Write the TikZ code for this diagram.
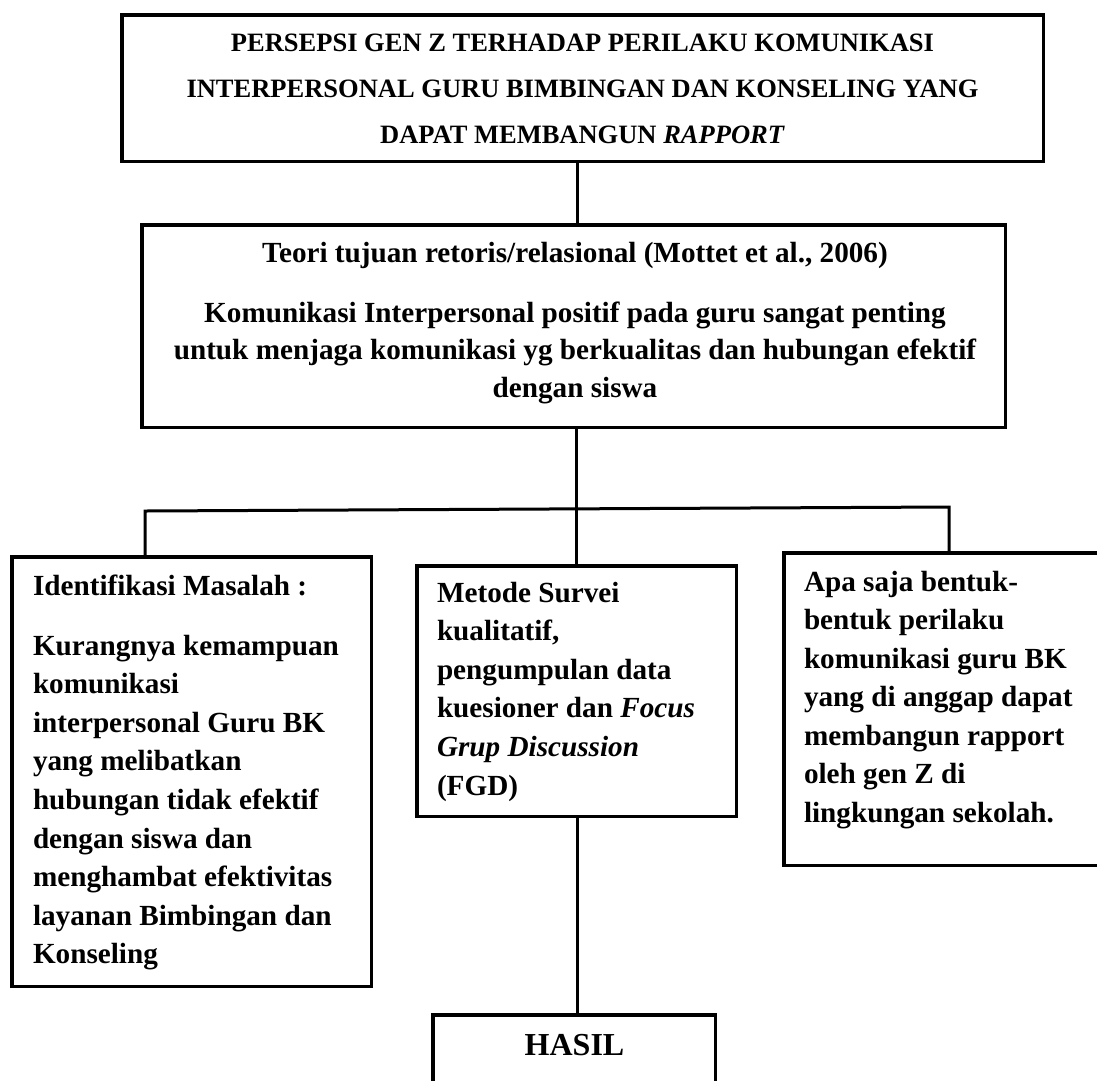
\documentclass[tikz,border=0pt]{standalone}
\usepackage{fontspec}
\setmainfont{Liberation Serif}
\tikzset{
  box/.style={draw, line width=3.5pt, inner sep=0pt, outer sep=0pt},
  conn/.style={line width=3pt},
  ltxt/.style={inner sep=0pt, outer sep=0pt, anchor=base west},
  ctxt/.style={inner sep=0pt, outer sep=0pt, anchor=base},
}
\newcommand{\bodyfnt}[1]{\fontsize{29.2}{#1}\selectfont\bfseries}
\begin{document}
\begin{tikzpicture}[x=1pt,y=-1pt]
\useasboundingbox (0,0) rectangle (1097,1080);
% boxes
\node[box, minimum width=921.5pt, minimum height=146.5pt] (judul) at (582.5,88) {};
\node[box, minimum width=863.5pt, minimum height=202.5pt] (teori) at (573.5,326) {};
\node[box, minimum width=359.5pt, minimum height=429.5pt] (masalah) at (191.5,771.5) {};
\node[box, minimum width=319.5pt, minimum height=250.5pt] (metode) at (576.5,691) {};
\node[box, minimum width=326.25pt, minimum height=312.5pt] (rumusan) at (946.9,709) {};
\node[box, minimum width=282.5pt, minimum height=85.25pt] (hasil) at (574,1057.4) {};
% texts
\node[ctxt] (tjudul) at (582.5,51) {\parbox[t]{1000pt}{\centering\fontsize{26.5}{46}\selectfont\bfseries
PERSEPSI GEN Z TERHADAP PERILAKU KOMUNIKASI\\
INTERPERSONAL GURU BIMBINGAN DAN KONSELING YANG\\
DAPAT MEMBANGUN \textit{RAPPORT}}};
\node[ctxt] (tteori) at (575,262) {\parbox[t]{900pt}{\centering\bodyfnt{34}
Teori tujuan retoris/relasional (Mottet et al., 2006)}};
\node[ctxt] (tkom) at (575,322) {\parbox[t]{900pt}{\centering\bodyfnt{37.5}
Komunikasi Interpersonal positif pada guru sangat penting\\
untuk menjaga komunikasi yg berkualitas dan hubungan efektif\\
dengan siswa}};
\node[ltxt] (tident) at (33,595) {\parbox[t]{340pt}{\raggedright\bodyfnt{38.6}
Identifikasi Masalah :}};
\node[ltxt] (tkurang) at (33,655) {\parbox[t]{340pt}{\raggedright\bodyfnt{38.6}
Kurangnya kemampuan\\
komunikasi\\
interpersonal Guru BK\\
yang melibatkan\\
hubungan tidak efektif\\
dengan siswa dan\\
menghambat efektivitas\\
layanan Bimbingan dan\\
Konseling}};
\node[ltxt] (tmetode) at (437,602) {\parbox[t]{300pt}{\raggedright\bodyfnt{38.6}
Metode Survei\\
kualitatif,\\
pengumpulan data\\
kuesioner dan \textit{Focus}\\
\textit{Grup Discussion}\\
(FGD)}};
\node[ltxt] (trumusan) at (804,591) {\parbox[t]{300pt}{\raggedright\bodyfnt{38.5}
Apa saja bentuk-\\
bentuk perilaku\\
komunikasi guru BK\\
yang di anggap dapat\\
membangun rapport\\
oleh gen Z di\\
lingkungan sekolah.}};
\node[ctxt] (thasil) at (574.5,1055) {\fontsize{32}{38}\selectfont\bfseries HASIL};
% connectors
\coordinate (sp1) at (577,0);
\coordinate (sp2) at (576,0);
\coordinate (jl) at (145,511);
\coordinate (jr) at (949,507);
\draw[conn] (judul.south -| sp1) -- (teori.north -| sp1);
\draw[conn] (teori.south -| sp2) -- (metode.north -| sp2);
\draw[conn] (masalah.north -| jl) -- (jl) -- (jr) -- (rumusan.north -| jr);
\draw[conn] (metode.south -| sp1) -- (hasil.north -| sp1);
\end{tikzpicture}
\end{document}
